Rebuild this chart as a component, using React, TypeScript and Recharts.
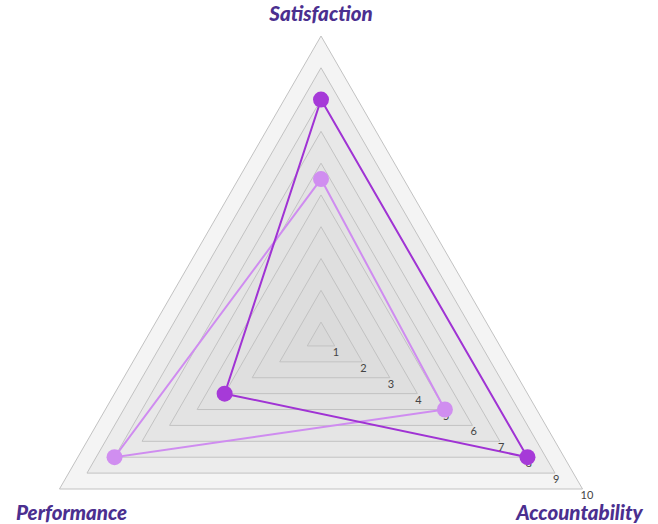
import React from 'react'
import { RadarChart, Radar, PolarAngleAxis, PolarRadiusAxis } from 'recharts'

// categories, clockwise from the top
const categories = ['Satisfaction', 'Accountability', 'Performance']
const seriesDark = [8, 8, 4]
const seriesLight = [5.5, 5, 8]

// radius ticks (each one is a grey ring)
const ringTicks = [1, 2, 3, 4, 5, 6, 7, 8, 9, 10]
const ringFills = [
  '#d9d9d9',
  '#dbdbdb',
  '#dddddd',
  '#dfdfdf',
  '#e1e1e1',
  '#e3e3e3',
  '#e5e5e5',
  '#e8e8e8',
  '#ececec',
  '#f4f4f4',
]

const CX = 321
const CY = 338
const OUTER = 302

const chartData = categories.map((name, i) => {
  const row: Record<string, any> = {
    subject: name,
    dark: seriesDark[i],
    light: seriesLight[i],
  }
  ringTicks.forEach((t) => {
    row[`ring${t}`] = t
  })
  return row
})

const AngleTick = (props: any) => {
  const { x, y, payload } = props
  const isTop = y < CY
  let dx = 0
  if (!isTop) dx = x < CX ? 19 : -10
  return (
    <text
      x={x + dx}
      y={isTop ? y - 7 : y + 27}
      textAnchor="middle"
      style={styles.angleLabel}
    >
      {payload.value}
    </text>
  )
}

// tick number drawn at the Accountability corner of each ring
const ringLabel = (tick: number) => (props: any) => {
  const { cx, cy, index } = props
  if (index !== 1) return <g key={`rl-${tick}-${index}`} />
  return (
    <text
      key={`rl-${tick}-${index}`}
      x={cx - 2}
      y={cy + 10}
      textAnchor="start"
      style={styles.tickLabel}
    >
      {tick}
    </text>
  )
}

const seriesDot = (color: string, name: string) => (props: any) => (
  <circle
    key={`${name}-${props.index}`}
    cx={props.cx}
    cy={props.cy}
    r={8}
    fill={color}
    stroke="none"
  />
)

export default function App() {
  return (
    <div style={styles.page}>
      <RadarChart
        width={658}
        height={524}
        data={chartData}
        cx={CX}
        cy={CY}
        outerRadius={OUTER}
        margin={{ top: 0, right: 0, bottom: 0, left: 0 }}
      >
        <PolarRadiusAxis
          domain={[0.5, 10]}
          tick={false}
          axisLine={false}
          tickCount={2}
        />
        <PolarAngleAxis
          dataKey="subject"
          tick={<AngleTick />}
          tickLine={false}
          axisLine={false}
        />
        {[...ringTicks].reverse().map((t) => (
          <Radar
            key={t}
            dataKey={`ring${t}`}
            stroke="#c2c2c2"
            strokeWidth={1}
            fill={ringFills[t - 1]}
            fillOpacity={1}
            dot={ringLabel(t)}
            activeDot={false}
            isAnimationActive={false}
          />
        ))}
        <Radar
          dataKey="light"
          stroke="#cf8cf0"
          strokeWidth={2}
          fill="none"
          fillOpacity={0}
          dot={seriesDot('#d08ef0', 'light')}
          isAnimationActive={false}
        />
        <Radar
          dataKey="dark"
          stroke="#a033d4"
          strokeWidth={2}
          fill="none"
          fillOpacity={0}
          dot={seriesDot('#a63ad8', 'dark')}
          isAnimationActive={false}
        />
      </RadarChart>
    </div>
  )
}

const styles: Record<string, React.CSSProperties> = {
  page: {
    position: 'absolute',
    left: 0,
    top: 0,
    width: 658,
    height: 524,
    background: '#ffffff',
  },
  angleLabel: {
    fontFamily: 'Lato, "Open Sans", sans-serif',
    fontWeight: 900,
    fontStyle: 'italic',
    fontSize: 20.5,
    fill: '#4b2f8f',
  },
  tickLabel: {
    fontFamily: 'Lato, "Open Sans", sans-serif',
    fontSize: 11,
    fill: '#444444',
  },
}
